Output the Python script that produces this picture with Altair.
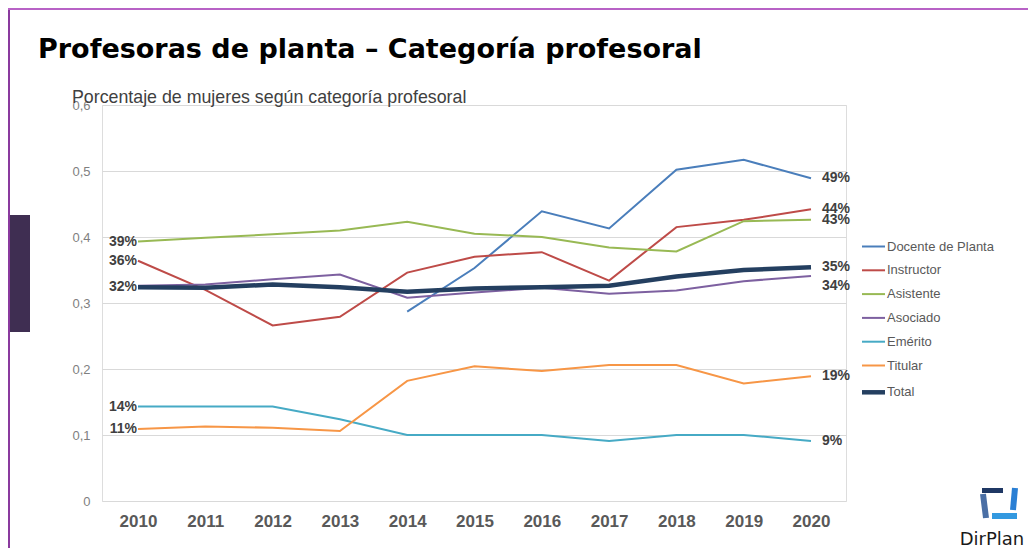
import altair as alt
import pandas as pd
import json

# ---- data ----
years = [2010, 2011, 2012, 2013, 2014, 2015, 2016, 2017, 2018, 2019, 2020]
series_names = ["Docente de Planta", "Instructor", "Asistente", "Asociado", "Emérito", "Titular", "Total"]
docente = [None, None, None, None, 0.287, 0.353, 0.439, 0.413, 0.502, 0.517, 0.489]
instructor = [0.364, 0.320, 0.266, 0.279, 0.346, 0.370, 0.377, 0.334, 0.415, 0.426, 0.442]
asistente = [0.393, 0.399, 0.404, 0.410, 0.423, 0.405, 0.400, 0.384, 0.378, 0.424, 0.426]
asociado = [0.326, 0.328, 0.336, 0.343, 0.308, 0.316, 0.323, 0.314, 0.319, 0.333, 0.341]
emerito = [0.143, 0.143, 0.143, 0.124, 0.100, 0.100, 0.100, 0.091, 0.100, 0.100, 0.091]
titular = [0.109, 0.113, 0.111, 0.106, 0.182, 0.204, 0.197, 0.206, 0.206, 0.178, 0.189]
total = [0.324, 0.323, 0.328, 0.324, 0.317, 0.322, 0.324, 0.326, 0.340, 0.350, 0.354]
y_ticks = [0, 0.1, 0.2, 0.3, 0.4, 0.5, 0.6]
left_labelled = ["Asistente", "Instructor", "Total", "Emérito", "Titular"]
right_labelled = ["Docente de Planta", "Instructor", "Asistente", "Total", "Emérito", "Titular"]

colors = ["#4A7EBB", "#BE4B48", "#98B954", "#7D60A0", "#46AAC5", "#F79646", "#243F60"]

rows = []
for name, vals in zip(series_names, [docente, instructor, asistente, asociado, emerito, titular, total]):
    for yr, v in zip(years, vals):
        if v is not None:
            rows.append({"year": yr, "serie": name, "value": v})
df = pd.DataFrame(rows)

FONT = "Liberation Sans"

x = alt.X("year:Q", scale=alt.Scale(domain=[2009.465, 2020.52], nice=False, zero=False),
          axis=alt.Axis(values=years, format="d", title=None, grid=False, domain=False, ticks=False,
                        labelFont=FONT, labelFontSize=17, labelFontWeight="bold", labelColor="#595959",
                        labelPadding=12))
y = alt.Y("value:Q", scale=alt.Scale(domain=[0, 0.6], nice=False),
          axis=alt.Axis(values=y_ticks, title=None, domain=False, ticks=False,
                        labelExpr="datum.value == 0 ? '0' : replace(format(datum.value, '.1f'), '.', ',')",
                        labelFont=FONT, labelFontSize=13, labelColor="#7F7F7F", labelPadding=12,
                        gridColor="#D9D9D9", gridWidth=1))

legend = alt.Legend(title=None, orient="none", legendX=765, legendY=135,
                    symbolType="stroke", symbolSize=529, rowPadding=9.8,
                    symbolStrokeWidth=alt.ExprRef("datum.value == 'Total' ? 4.5 : 2"),
                    labelFont=FONT, labelFontSize=13, labelColor="#595959",
                    labelOffset=7)

base = alt.Chart(df)

lines = base.mark_line().encode(
    x=x, y=y,
    color=alt.Color("serie:N", sort=series_names,
                    scale=alt.Scale(domain=series_names, range=colors), legend=legend),
    strokeWidth=alt.condition("datum.serie == 'Total'", alt.value(4.5), alt.value(2)),
    order=alt.Order("year:Q"),
)

lab_style = dict(font=FONT, fontSize=14, fontWeight="bold", color="#404040", baseline="middle")

left_expr = "datum.year == 2010 && indexof(%s, datum.serie) >= 0" % json.dumps(left_labelled)
right_expr = "datum.year == 2020 && indexof(%s, datum.serie) >= 0" % json.dumps(right_labelled)

left_labels = base.transform_filter(left_expr).mark_text(align="right", dx=-1, **lab_style).encode(
    x="year:Q", y="value:Q", text=alt.Text("value:Q", format=".0%"))

right_labels = base.transform_filter(right_expr).mark_text(align="left", dx=11, **lab_style).encode(
    x="year:Q", y="value:Q", text=alt.Text("value:Q", format=".0%"))

asoc_label = base.transform_filter(
    "datum.year == 2020 && datum.serie == 'Asociado'"
).mark_text(align="left", dx=11, dy=10, **lab_style).encode(
    x="year:Q", y="value:Q", text=alt.Text("value:Q", format=".0%"))

one = pd.DataFrame({"k": [0]})
deco = alt.Chart(one)

title = deco.mark_text(text="Profesoras de planta – Categoría profesoral", align="left", baseline="alphabetic",
                       font="DejaVu Sans", fontWeight="bold", fontSize=27, color="#000000").encode(
    x=alt.value(-64), y=alt.value(-47))
subtitle = deco.mark_text(text="Porcentaje de mujeres según categoría profesoral", align="left",
                          baseline="alphabetic", font=FONT, fontSize=17.8, color="#404040").encode(
    x=alt.value(-30), y=alt.value(-2))
logo_text = deco.mark_text(text="DirPlan", align="center", baseline="alphabetic",
                           font="DejaVu Sans", fontSize=18, color="#1A1A1A").encode(
    x=alt.value(890), y=alt.value(440))
side_bar = deco.mark_rect(color="#3F2E52").encode(
    x=alt.value(-92), x2=alt.value(-72), y=alt.value(110), y2=alt.value(227))
left_line = deco.mark_rule(color="#8A3A9E", strokeWidth=2).encode(
    x=alt.value(-93), y=alt.value(-97), y2=alt.value(445))
top_line = deco.mark_rule(color="#B862C6", strokeWidth=2).encode(
    x=alt.value(-94), x2=alt.value(926), y=alt.value(-96))
logo_top = deco.mark_rule(color="#1F3864", strokeWidth=5).encode(
    x=alt.value(880), x2=alt.value(901), y=alt.value(385.5))
logo_right = deco.mark_rule(color="#2A7FD4", strokeWidth=6).encode(
    x=alt.value(913), x2=alt.value(911), y=alt.value(383), y2=alt.value(405))
logo_bottom = deco.mark_rule(color="#3399E0", strokeWidth=6).encode(
    x=alt.value(890), x2=alt.value(915), y=alt.value(411))
logo_left = deco.mark_rule(color="#4A6FA5", strokeWidth=6).encode(
    x=alt.value(881), x2=alt.value(884), y=alt.value(389), y2=alt.value(413))

chart = alt.layer(
    lines, left_labels, right_labels, asoc_label,
    title, subtitle, side_bar, left_line, top_line,
    logo_top, logo_right, logo_bottom, logo_left, logo_text,
).properties(
    width=744, height=396,
    autosize=alt.AutoSizeParams(type="none"),
    padding={"left": 94, "top": 97, "right": 182, "bottom": 47},
).configure_view(stroke=None).configure(background="white")

chart.save("out.html", embed_options={"renderer": "svg", "actions": False})
